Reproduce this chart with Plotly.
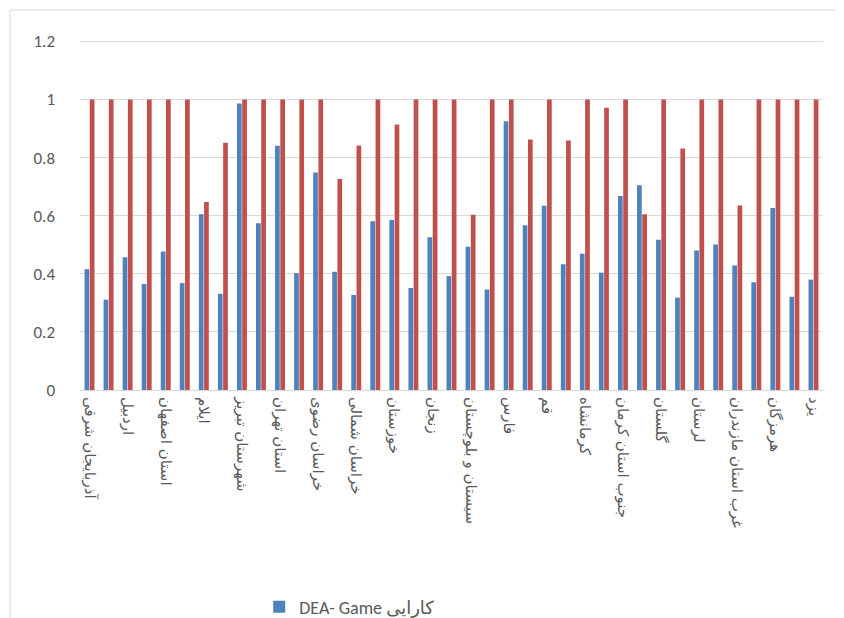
import plotly.graph_objects as go

categories = [
    "آذربایجان شرقی", "آذربایجان غربی", "اردبیل", "شهرستان اصفهان", "استان اصفهان",
    "البرز", "ایلام", "بوشهر", "شهرستان تبریز", "شهرستان تهران",
    "استان تهران", "چهارمحال و بختیاری", "خراسان رضوی", "خراسان جنوبی", "خراسان شمالی",
    "شهرستان اهواز", "خوزستان", "شهرستان زنجان", "زنجان", "سمنان",
    "سیستان و بلوچستان", "شهرستان شیراز", "فارس", "قزوین", "قم",
    "کردستان", "کرمانشاه", "شمال استان کرمان", "جنوب استان کرمان", "کهگیلویه و بویراحمد",
    "گلستان", "گیلان", "لرستان", "شرق استان مازندران", "غرب استان مازندران",
    "مرکزی", "هرمزگان", "همدان", "یزد",
]
shown_labels = categories[::2]

dea_game = [
    0.416, 0.311, 0.457, 0.365, 0.477, 0.368, 0.605, 0.331, 0.986, 0.574,
    0.841, 0.402, 0.749, 0.407, 0.327, 0.581, 0.585, 0.351, 0.526, 0.392,
    0.493, 0.346, 0.925, 0.567, 0.634, 0.433, 0.469, 0.404, 0.668, 0.705,
    0.517, 0.318, 0.480, 0.501, 0.429, 0.371, 0.627, 0.321, 0.380,
]
second_series = [
    1, 1, 1, 1, 1, 1, 0.647, 0.851, 1, 1,
    1, 1, 1, 0.726, 0.842, 1, 0.914, 1, 1, 1,
    0.603, 1, 1, 0.862, 1, 0.859, 1, 0.972, 1, 0.605,
    1, 0.831, 1, 1, 0.635, 1, 1, 1, 1,
]

y_ticks = [0, 0.2, 0.4, 0.6, 0.8, 1, 1.2]
y_ticktext = ["0", "0.2", "0.4", "0.6", "0.8", "1", "1.2"]
y_max = y_ticks[-1]

latin_font = "Carlito, Liberation Sans, DejaVu Sans, sans-serif"
arabic_font = "DejaVu Sans, Liberation Sans, sans-serif"
grey = "#595959"
grid = "#D9D9D9"

fig = go.Figure()
fig.add_trace(go.Bar(
    x=categories, y=dea_game, name="DEA- Game کارایی",
    marker=dict(color="#4F81BD", line=dict(width=0)),
))
fig.add_trace(go.Bar(
    x=categories, y=second_series, name="", showlegend=False,
    marker=dict(color="#C0504D", line=dict(width=0)),
))

# page body has an 8px margin, so the figure is drawn 8px smaller and shifted
fig.update_layout(
    width=836, height=610,
    margin=dict(l=72, r=21, t=33, b=228, autoexpand=False),
    paper_bgcolor="white", plot_bgcolor="white",
    barmode="group", bargap=0.45, bargroupgap=0.1,
    font=dict(family=latin_font, color=grey, size=14),
    showlegend=True,
    legend=dict(
        orientation="h", x=0.363, xanchor="center",
        yref="container", y=0.018, yanchor="middle",
        font=dict(size=18, color=grey, family=latin_font), itemwidth=30,
    ),
    xaxis=dict(
        type="category", categoryorder="array", categoryarray=categories,
        tickmode="array", tickvals=shown_labels, ticktext=shown_labels,
        tickangle=90, showgrid=False, showline=True, linecolor=grid,
        linewidth=1, ticks="", tickfont=dict(size=15, color=grey, family=arabic_font),
        automargin=False, ticklabelstandoff=3,
    ),
    yaxis=dict(
        range=[0, 1.2015], tickmode="array", tickvals=y_ticks, ticktext=y_ticktext,
        showgrid=True, gridcolor=grid, gridwidth=1, zeroline=False,
        showline=False, ticks="", ticklabelstandoff=24, automargin=False,
        tickfont=dict(size=17, color=grey),
    ),
    shapes=[
        dict(
            type="rect", xref="paper", yref="paper",
            x0=-70 / 743, x1=1 + 15 / 743, y0=-240 / 349, y1=1 + 31 / 349,
            line=dict(color=grid, width=1), fillcolor="rgba(0,0,0,0)",
            layer="below",
        ),
        dict(
            type="line", xref="paper", yref="y", x0=0, x1=1, y0=y_max, y1=y_max,
            line=dict(color=grid, width=1), layer="below",
        ),
    ],
)

fig.write_html("out.html")
